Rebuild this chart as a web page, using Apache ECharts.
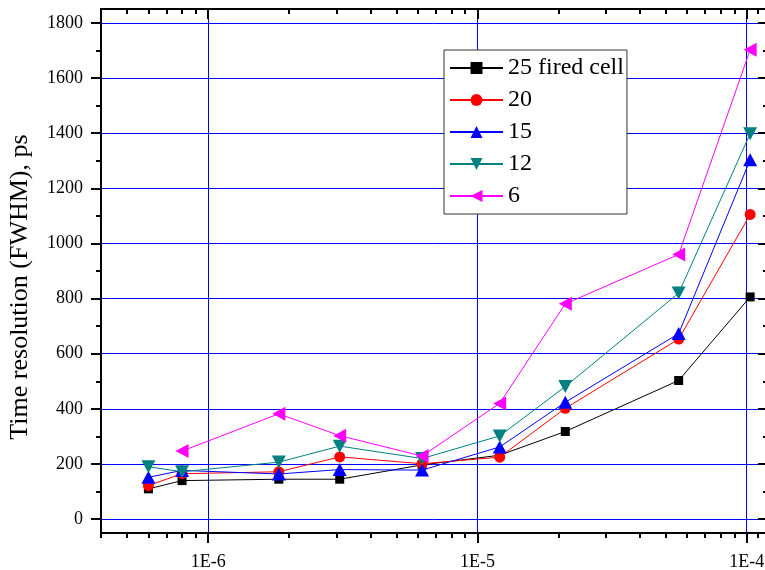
<!DOCTYPE html>
<html>
<head>
<meta charset="utf-8">
<script src="https://cdn.jsdelivr.net/npm/echarts@6/dist/echarts.min.js"></script>
<style>
  html, body { margin: 0; padding: 0; background: #ffffff; }
  #chart { width: 765px; height: 570px; }
</style>
</head>
<body>
<div id="chart"></div>
<script>
// Light intensity values (x) shared by all curves
const intensity = [6e-7, 8e-7, 1.83e-6, 3.08e-6, 6.23e-6, 1.21e-5, 2.12e-5, 5.59e-5, 1.03e-4];

// Time resolution (FWHM, ps) for each number of fired cells
const fired25 = [110, 140, 145, 145, 197, 232, 318, 503, 806];
const fired20 = [122, 165, 172, 226, 201, 225, 402, 653, 1105];
const fired15 = [152, 177, 164, 180, 178, 262, 424, 673, 1303];
const fired12 = [190, 172, 207, 265, 220, 302, 481, 820, 1398];
const fired6  = [null, 247, 382, 303, 229, 420, 781, 960, 1702];

const seriesNames = ['25 fired cell', '20', '15', '12', '6'];

// Axis ticks
const xMajorTicks = [1e-6, 1e-5, 1e-4];
const xMinorTicks = [4e-7, 5e-7, 6e-7, 7e-7, 8e-7, 9e-7,
                     2e-6, 3e-6, 4e-6, 5e-6, 6e-6, 7e-6, 8e-6, 9e-6,
                     2e-5, 3e-5, 4e-5, 5e-5, 6e-5, 7e-5, 8e-5, 9e-5, 1.1e-4];
const yMajorTicks = [0, 200, 400, 600, 800, 1000, 1200, 1400, 1600, 1800];
const yMinorTicks = [100, 300, 500, 700, 900, 1100, 1300, 1500, 1700];

const xRange = [4e-7, 1.2e-4];
const yRange = [-50, 1850];

const SERIF = '"Liberation Serif", "Times New Roman", "DejaVu Serif", serif';
const GRID_BLUE = '#0000ff';

function pairs(ys) {
  const out = [];
  ys.forEach((y, i) => { if (y !== null) out.push([intensity[i], y]); });
  return out;
}

function expLabel(v) {
  return '1E' + Math.round(Math.log10(v));
}

// Builds one x axis layer (major or minor ticks, top or bottom)
function xAxisLayer(position, ticks, len, inside, withLabels, withGrid) {
  return {
    type: 'log',
    logBase: 10,
    position: position,
    min: xRange[0],
    max: xRange[1],
    axisLine: { show: true, onZero: false, lineStyle: { color: '#000', width: 2 } },
    axisTick: { show: true, inside: inside, length: len, customValues: ticks,
                lineStyle: { color: '#000', width: 2 } },
    axisLabel: withLabels ? {
      show: true, customValues: ticks, formatter: expLabel, margin: 20,
      fontFamily: SERIF, fontSize: 18, color: '#000'
    } : { show: false },
    splitLine: withGrid ? { show: true, lineStyle: { color: GRID_BLUE, width: 1 } } : { show: false },
    minorTick: { show: false },
    minorSplitLine: { show: false }
  };
}

function yAxisLayer(position, ticks, len, inside, withLabels, withGrid, name) {
  const ax = {
    type: 'value',
    position: position,
    min: yRange[0],
    max: yRange[1],
    axisLine: { show: true, onZero: false, lineStyle: { color: '#000', width: 2 } },
    axisTick: { show: true, inside: inside, length: len, customValues: ticks,
                lineStyle: { color: '#000', width: 2 } },
    axisLabel: withLabels ? {
      show: true, customValues: ticks, margin: 18,
      formatter: v => String(v),
      fontFamily: SERIF, fontSize: 18, color: '#000'
    } : { show: false },
    splitLine: withGrid ? { show: true, lineStyle: { color: GRID_BLUE, width: 1 } } : { show: false },
    minorTick: { show: false }
  };
  if (name) {
    ax.name = name;
    ax.nameLocation = 'middle';
    ax.nameGap = 68;
    ax.nameTextStyle = { fontFamily: SERIF, fontSize: 26, color: '#000', padding: [0, 32, 0, 0] };
  }
  return ax;
}

const styles = [
  { color: '#000000', symbol: 'rect',     size: 9,        rotate: 0 },
  { color: '#ff0000', symbol: 'circle',   size: 11,       rotate: 0 },
  { color: '#0000ff', symbol: 'triangle', size: [14, 13], rotate: 0 },
  { color: '#008080', symbol: 'triangle', size: [14, 13], rotate: 180 },
  { color: '#ff00ff', symbol: 'triangle', size: [14, 13], rotate: 90 }
];
const values = [fired25, fired20, fired15, fired12, fired6];

const series = values.map((ys, i) => ({
  name: seriesNames[i],
  type: 'line',
  xAxisIndex: 0,
  yAxisIndex: 0,
  data: pairs(ys),
  symbol: styles[i].symbol,
  symbolSize: styles[i].size,
  symbolRotate: styles[i].rotate,
  showAllSymbol: true,
  lineStyle: { color: styles[i].color, width: 1 },
  itemStyle: { color: styles[i].color, borderWidth: 0 },
  emphasis: { disabled: true },
  z: 3 + i
}));

const chart = echarts.init(document.getElementById('chart'), null, { renderer: 'canvas' });
chart.setOption({
  animation: false,
  backgroundColor: '#ffffff',
  grid: { left: 101, top: 9, width: 667, height: 524, outerBoundsMode: 'none', containLabel: false },
  legend: {
    orient: 'vertical',
    left: 444,
    top: 50,
    data: seriesNames,
    itemWidth: 53,
    itemHeight: 15,
    itemGap: 8,
    padding: [6, 3, 6, 5],
    backgroundColor: '#ffffff',
    borderColor: '#333333',
    borderWidth: 1,
    borderRadius: 0,
    textStyle: { fontFamily: SERIF, fontSize: 24, color: '#000' },
    selectedMode: false
  },
  xAxis: [
    xAxisLayer('bottom', xMajorTicks, 10, false, true, true),
    xAxisLayer('bottom', xMinorTicks, 5, false, false, false),
    xAxisLayer('top', xMajorTicks, 10, true, false, false),
    xAxisLayer('top', xMinorTicks, 5, true, false, false)
  ],
  yAxis: [
    yAxisLayer('left', yMajorTicks, 10, false, true, true, 'Time resolution (FWHM), ps'),
    yAxisLayer('left', yMinorTicks, 5, false, false, false),
    yAxisLayer('right', yMajorTicks, 10, true, false, false),
    yAxisLayer('right', yMinorTicks, 5, true, false, false)
  ],
  series: series
});
</script>
</body>
</html>
